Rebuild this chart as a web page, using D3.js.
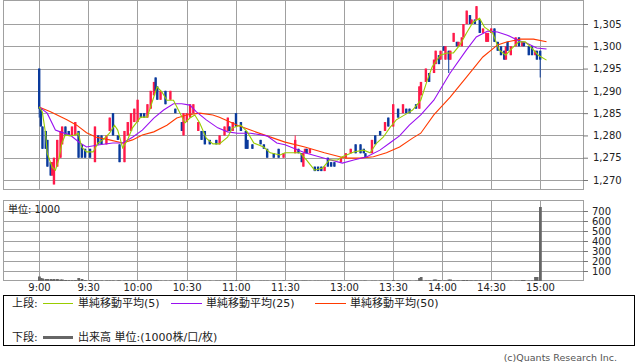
<!DOCTYPE html>
<html><head><meta charset="utf-8">
<script src="https://cdn.jsdelivr.net/npm/d3@7"></script>
<style>
body{margin:0;background:#fff;}
svg{display:block;font-family:"DejaVu Sans","Noto Sans CJK JP",sans-serif;}
</style></head><body>
<svg id="chart" width="638" height="362"></svg>
<script>
// ---- data (1-minute candles, prices in yen) ----
const candleTimes = [
"9:00","9:01","9:02","9:04","9:05","9:07","9:08","9:09","9:11","9:13",
"9:14","9:16","9:18","9:20","9:22","9:24","9:26","9:28","9:31","9:34",
"9:36","9:38","9:41","9:43","9:45","9:48","9:49","9:52","9:54","9:56",
"9:58","10:00","10:02","10:04","10:06","10:08","10:10","10:11","10:12","10:14",
"10:17","10:20","10:23","10:27","10:28","10:30","10:32","10:34","10:37","10:39",
"10:41","10:44","10:48","10:50","10:53","10:55","10:56","10:58","11:00","11:03",
"11:06","11:07","11:10","11:15","11:17","11:19","11:23","11:26","11:29",
"12:30","12:32","12:34","12:35","12:36","12:37","12:39","12:42","12:44","12:46",
"12:48","12:50","12:52","12:54","12:58","13:01","13:04","13:07","13:10","13:12",
"13:13","13:17","13:19","13:22","13:25","13:27","13:30","13:33","13:36","13:38",
"13:40","13:44","13:46","13:47","13:50","13:52","13:55","13:56","13:58","13:59",
"14:01","14:02","14:04","14:05","14:07","14:09","14:10","14:12","14:13","14:15",
"14:17","14:18","14:20","14:21","14:23","14:25","14:27","14:28","14:30","14:32",
"14:34","14:36","14:38","14:39","14:40","14:42","14:45","14:47","14:49","14:50",
"14:53","14:55","14:57","14:58","15:00"];
const opens = [
1295,1286,1282,1281,1279,1274,1271,1269,1273,1275,
1278,1282,1281,1280,1280,1281,1278,1277,1277,1274,
1280,1280,1278,1281,1285,1280,1278,1274,1280,1281,
1283,1283,1285,1285,1284,1286,1289,1293,1291,1288,
1290,1288,1286,1283,1280,1283,1284,1285,1281,1281,
1281,1279,1279,1278,1280,1281,1282,1281,1285,1283,
1281,1279,1278,1279,1278,1277,1276,1277,1275,
1276,1277,1276,1273,1276,1277,1276,1273,1273,1273,
1272,1275,1274,1274,1274,1275,1276,1278,1278,1277,
1276,1276,1280,1281,1281,1284,1282,1286,1285,1286,
1286,1287,1286,1289,1292,1294,1294,1296,1298,1297,
1300,1297,1299,1297,1301,1301,1300,1300,1302,1305,
1307,1305,1306,1306,1306,1303,1301,1301,1303,1304,
1301,1300,1299,1297,1301,1298,1300,1302,1300,1301,
1300,1300,1298,1299,1299];
const highs = [
1295,1286,1282,1281,1279,1274,1274,1275,1279,1281,
1282,1282,1281,1282,1283,1281,1278,1277,1277,1282,
1280,1280,1280,1284,1285,1280,1278,1281,1283,1285,
1286,1288,1285,1285,1287,1290,1292,1293,1291,1290,
1290,1290,1286,1283,1285,1285,1287,1287,1283,1281,
1281,1279,1279,1280,1282,1284,1282,1283,1285,1283,
1281,1279,1278,1279,1278,1277,1276,1277,1276,
1280,1277,1276,1276,1277,1277,1277,1273,1273,1273,
1273,1275,1274,1274,1275,1276,1277,1278,1278,1277,
1276,1279,1280,1281,1283,1284,1287,1286,1287,1286,
1286,1287,1291,1292,1295,1294,1297,1299,1298,1299,
1300,1300,1299,1299,1303,1301,1301,1302,1305,1308,
1307,1306,1306,1309,1306,1304,1303,1303,1304,1304,
1301,1300,1299,1300,1301,1300,1302,1302,1301,1301,
1300,1300,1299,1299,1299];
const lows = [
1284,1282,1277,1277,1273,1271,1271,1269,1273,1275,
1278,1280,1280,1280,1280,1275,1275,1275,1275,1274,
1278,1278,1278,1281,1280,1279,1274,1274,1280,1281,
1283,1283,1284,1284,1284,1286,1289,1290,1288,1288,
1287,1288,1285,1281,1280,1283,1284,1285,1281,1279,
1278,1278,1278,1278,1280,1281,1281,1281,1282,1281,
1277,1277,1277,1278,1277,1275,1275,1275,1275,
1276,1276,1274,1273,1276,1276,1276,1272,1272,1272,
1272,1273,1273,1273,1274,1275,1276,1276,1276,1276,
1275,1276,1278,1280,1281,1282,1282,1284,1285,1285,
1285,1286,1286,1289,1292,1292,1294,1296,1296,1297,
1299,1297,1294,1297,1301,1300,1300,1300,1302,1305,
1305,1305,1305,1306,1303,1303,1301,1301,1303,1301,
1299,1298,1297,1297,1299,1298,1300,1300,1300,1300,
1298,1298,1298,1297,1293];
const closes = [
1286,1282,1277,1277,1273,1271,1274,1275,1279,1281,
1282,1280,1280,1282,1283,1275,1275,1275,1275,1282,
1278,1278,1280,1284,1280,1279,1274,1281,1283,1285,
1286,1288,1284,1284,1287,1290,1292,1290,1288,1290,
1287,1290,1285,1281,1285,1285,1287,1287,1283,1279,
1278,1278,1278,1280,1282,1284,1281,1283,1282,1281,
1277,1277,1277,1278,1277,1275,1275,1275,1276,
1279,1276,1274,1276,1277,1276,1277,1272,1272,1272,
1273,1273,1273,1273,1275,1276,1277,1276,1276,1276,
1275,1279,1278,1280,1283,1282,1287,1284,1287,1285,
1285,1286,1291,1292,1295,1292,1297,1299,1296,1299,
1299,1300,1297,1299,1303,1300,1301,1302,1305,1308,
1305,1306,1305,1309,1303,1304,1303,1303,1304,1301,
1299,1298,1297,1300,1299,1300,1302,1300,1301,1300,
1298,1298,1299,1297,1297];
const volumes = [
45,30,25,20,20,20,15,20,20,15,
15,10,8,8,10,30,20,10,8,10,
5,5,5,5,5,5,5,5,5,5,
5,5,3,3,5,5,5,5,5,3,
3,3,3,3,5,3,3,3,3,3,
3,3,3,3,3,3,3,3,8,5,
3,3,3,3,3,3,3,3,5,
10,3,3,3,3,3,3,3,3,3,
3,3,3,3,3,3,3,3,3,3,
3,3,3,3,3,3,10,3,3,3,
3,3,30,40,5,5,15,15,10,5,
5,5,15,15,5,5,5,5,10,10,
5,5,5,5,5,3,3,3,3,3,
3,3,3,3,3,3,3,3,10,10,
3,5,40,40,740];

// moving averages
const ma5Times = ["9:00","9:02","9:04","9:05","9:08","9:10","9:12","9:14","9:16","9:19","9:22","9:24","9:26","9:29","9:33","9:36","9:39","9:43","9:46","9:48","9:51","9:54","9:57","10:02","10:06","10:09","10:12","10:15","10:18","10:22","10:25","10:29","10:32","10:35","10:38","10:42","10:46","10:50","10:55","10:58","11:03","11:07","11:11","11:17","11:21","11:27","11:30","12:33","12:37","12:42","12:47","12:51","12:56","12:59","13:06","13:12","13:16","13:20","13:24","13:28","13:32","13:39","13:42","13:47","13:51","13:54","13:59","14:03","14:07","14:11","14:15","14:19","14:23","14:26","14:31","14:35","14:39","14:43","14:47","14:51","14:55","14:59","15:04"];
const ma5Values = [1286.4,1285.3,1280.5,1276.1,1272.9,1272.2,1274.5,1278.3,1280.1,1279.9,1280.1,1280.5,1277.4,1276.3,1276.3,1278.3,1279.0,1280.5,1282.3,1281.2,1277.2,1279.0,1281.7,1284.1,1284.1,1287.5,1290.9,1289.7,1287.9,1287.9,1285.7,1282.8,1283.9,1284.6,1282.8,1279.4,1278.1,1278.1,1279.6,1281.7,1282.3,1280.8,1278.3,1277.4,1276.1,1275.6,1276.1,1276.1,1274.5,1272.2,1272.7,1274.5,1274.5,1275.2,1276.3,1276.7,1276.1,1278.3,1279.6,1281.7,1283.5,1285.0,1285.7,1287.9,1292.4,1295.4,1298.0,1298.5,1298.5,1300.3,1303.0,1305.4,1306.3,1304.3,1303.0,1299.2,1298.0,1299.6,1301.0,1301.0,1299.6,1298.0,1296.9];
const ma25Times = ["9:00","9:05","9:10","9:13","9:19","9:25","9:29","9:37","9:45","9:51","9:57","10:03","10:10","10:16","10:22","10:27","10:32","10:36","10:42","10:49","10:55","11:01","11:09","11:19","11:25","11:30","12:36","12:48","12:59","13:06","13:14","13:22","13:28","13:34","13:40","13:47","13:55","14:05","14:15","14:21","14:28","14:34","14:40","14:46","14:52","14:58","15:04"];
const ma25Values = [1286.4,1285.0,1281.2,1280.8,1280.1,1278.3,1277.4,1277.9,1278.3,1278.3,1279.6,1281.2,1283.9,1285.7,1287.1,1287.1,1286.8,1285.3,1283.5,1281.7,1280.8,1280.5,1280.5,1279.9,1278.3,1277.9,1276.1,1274.9,1273.8,1274.5,1275.2,1276.7,1278.3,1279.9,1282.3,1284.6,1287.9,1294.0,1299.2,1302.1,1303.4,1303.2,1302.5,1301.4,1300.7,1299.6,1299.4];
const ma50Times = ["9:00","9:07","9:17","9:23","9:29","9:35","9:43","9:51","9:57","10:03","10:10","10:18","10:24","10:30","10:38","10:46","10:50","11:01","11:09","11:19","11:30","12:36","12:48","13:01","13:10","13:18","13:26","13:34","13:42","13:47","13:55","14:05","14:15","14:25","14:34","14:40","14:48","14:56","15:04"];
const ma50Values = [1286.4,1285.3,1283.5,1282.3,1280.6,1279.6,1279.0,1278.3,1279.0,1280.1,1280.8,1282.3,1283.9,1284.6,1285.0,1284.6,1284.1,1282.3,1281.2,1279.9,1278.5,1277.4,1276.1,1274.9,1274.9,1275.2,1276.1,1277.4,1279.4,1280.5,1284.6,1288.6,1293.1,1297.6,1300.3,1301.0,1301.6,1301.6,1301.0];

const timeTicks = ["9:00","9:30","10:00","10:30","11:00","11:30","13:00","13:30","14:00","14:30","15:00"];
const priceTicks = [1270,1275,1280,1285,1290,1295,1300,1305];
const volumeTicks = [100,200,300,400,500,600,700];

// ---- drawing ----
const toMin = s => { const p = s.split(":").map(Number); return p[0]*60 + p[1]; };
const svg = d3.select("#chart");
const L = 3, R = 583;
const P1 = {top: 1, bottom: 190};
const P2 = {top: 201, bottom: 281};
const GRID = "#a0a0a0";

const x = d3.scaleLinear().domain([540, 690, 750, 900]).range([39, 285, 295, 540]);
const y = d3.scaleLinear().domain([1270, 1305]).range([180, 24]);
const yv = d3.scaleLinear().domain([0, 800]).range([281, 201]);
const px = v => Math.round(v) + 0.5;

svg.append("rect").attr("width", 638).attr("height", 362).attr("fill", "#fff");

function panelGrid(top, bottom, hVals, scale) {
  const g = svg.append("g");
  g.selectAll("line.h").data(hVals).join("line")
    .attr("x1", L).attr("x2", R)
    .attr("y1", d => px(scale(d))).attr("y2", d => px(scale(d)))
    .attr("stroke", GRID).attr("stroke-width", 1);
  g.selectAll("line.v").data(timeTicks).join("line")
    .attr("x1", d => px(x(toMin(d)))).attr("x2", d => px(x(toMin(d))))
    .attr("y1", top).attr("y2", bottom)
    .attr("stroke", GRID).attr("stroke-width", 1);
  g.append("rect").attr("x", L + 0.5).attr("y", top + 0.5)
    .attr("width", R - L).attr("height", bottom - top - 1)
    .attr("fill", "none").attr("stroke", GRID);
}
panelGrid(P1.top - 1, P1.bottom, priceTicks, y);
panelGrid(P2.top - 1, P2.bottom, volumeTicks, yv);

// candles
const candles = candleTimes.map((t, i) => ({t: toMin(t), o: opens[i], h: highs[i], l: lows[i], c: closes[i], v: volumes[i]}));
const UP = "#ff1a4a", DOWN = "#0a3a9c";
const cg = svg.append("g");
cg.selectAll("line").data(candles).join("line")
  .attr("x1", d => x(d.t) + 0.2).attr("x2", d => x(d.t) + 0.2)
  .attr("y1", d => y(d.h)).attr("y2", d => y(d.l))
  .attr("stroke", d => d.c >= d.o ? UP : DOWN).attr("stroke-width", 1);
cg.selectAll("rect").data(candles).join("rect")
  .attr("x", d => x(d.t) - 1)
  .attr("width", 2.4)
  .attr("y", d => y(Math.max(d.o, d.c)))
  .attr("height", d => Math.max(1.2, y(Math.min(d.o, d.c)) - y(Math.max(d.o, d.c))))
  .attr("fill", d => d.c >= d.o ? UP : DOWN);

// moving averages
const maLine = d3.line().x(d => x(d[0])).y(d => y(d[1]));
function drawMA(times, vals, color) {
  svg.append("path").datum(times.map((t, i) => [toMin(t), vals[i]]))
    .attr("d", maLine).attr("fill", "none").attr("stroke", color).attr("stroke-width", 1.1);
}
drawMA(ma50Times, ma50Values, "#ff3a00");
drawMA(ma25Times, ma25Values, "#9a10f0");
drawMA(ma5Times, ma5Values, "#99cc00");

// volume bars
svg.append("g").selectAll("rect").data(candles).join("rect")
  .attr("x", d => x(d.t) - 1).attr("width", 2.8)
  .attr("y", d => yv(d.v)).attr("height", d => yv(0) - yv(d.v))
  .attr("fill", "#666");

// axes
const styleAxis = g => {
  g.select(".domain").remove();
  g.selectAll(".tick line").attr("stroke", "#777");
  g.selectAll("text").attr("fill", "#222").style("font-size", "10px")
    .style("font-family", "DejaVu Sans, sans-serif");
};
svg.append("g").attr("transform", `translate(${R},0)`)
  .call(d3.axisRight(y).tickValues(priceTicks).tickFormat(d3.format(",")).tickSize(5).tickPadding(5))
  .call(styleAxis);
svg.append("g").attr("transform", `translate(${R},0)`)
  .call(d3.axisRight(yv).tickValues(volumeTicks).tickSize(5).tickPadding(4))
  .call(styleAxis);
svg.append("g").attr("transform", `translate(0,${P2.bottom})`)
  .call(d3.axisBottom(x).tickValues(timeTicks.map(toMin))
    .tickFormat(m => Math.floor(m / 60) + ":" + String(m % 60).padStart(2, "0"))
    .tickSize(0).tickPadding(3))
  .call(styleAxis);

// unit label
svg.append("text").attr("x", 8).attr("y", 209).attr("dominant-baseline", "central")
  .style("font-size", "10px").attr("fill", "#222").text("単位: 1000");

// legend
svg.append("rect").attr("x", 3.5).attr("y", 295.5).attr("width", 631).attr("height", 50)
  .attr("fill", "none").attr("stroke", "#000");
const lg = svg.append("g").style("font-size", "11px").attr("fill", "#222");
lg.append("text").attr("x", 12).attr("y", 303).attr("dominant-baseline", "central").text("上段:");
lg.append("text").attr("x", 12).attr("y", 337).attr("dominant-baseline", "central").text("下段:");
const legendItems = [
  {x1: 43, x2: 73, tx: 78, label: "単純移動平均(5)", color: "#99cc00"},
  {x1: 171, x2: 202, tx: 206, label: "単純移動平均(25)", color: "#9a10f0"},
  {x1: 315, x2: 346, tx: 350, label: "単純移動平均(50)", color: "#ff3a00"}
];
legendItems.forEach(it => {
  lg.append("line").attr("x1", it.x1).attr("x2", it.x2).attr("y1", 303.5).attr("y2", 303.5)
    .attr("stroke", it.color).attr("stroke-width", 1);
  lg.append("text").attr("x", it.tx).attr("y", 303).attr("dominant-baseline", "central").text(it.label);
});
lg.append("line").attr("x1", 43).attr("x2", 73).attr("y1", 337.5).attr("y2", 337.5)
  .attr("stroke", "#666").attr("stroke-width", 3);
lg.append("text").attr("x", 78).attr("y", 337).attr("dominant-baseline", "central").text("出来高 単位:(1000株/口/枚)");

svg.append("text").attr("x", 617).attr("y", 357.5).attr("dominant-baseline", "central")
  .attr("text-anchor", "end").style("font-size", "9.5px").attr("fill", "#555")
  .text("(c)Quants Research Inc.");
</script>
</body></html>
